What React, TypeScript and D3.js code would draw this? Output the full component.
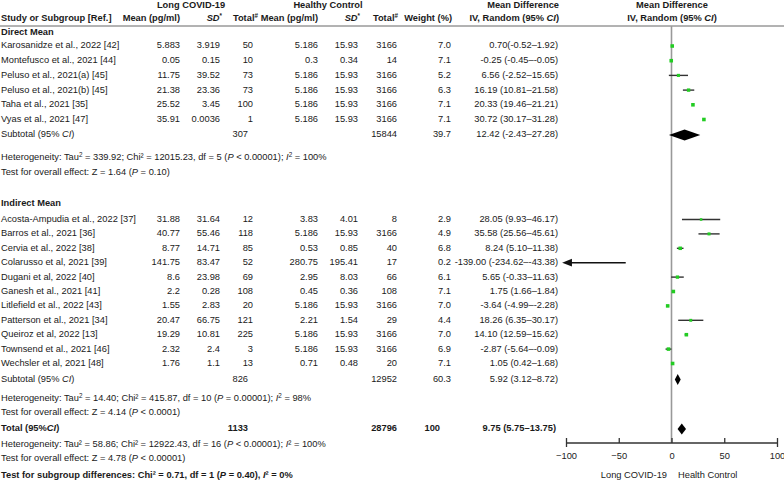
import React, { useEffect, useRef } from 'react';
import * as d3 from 'd3';

// Direct Mean studies
const directNames = ['Karosanidze et al., 2022 [42]', 'Montefusco et al., 2021 [44]', 'Peluso et al., 2021(a) [45]', 'Peluso et al., 2021(b)  [45]', 'Taha et al., 2021 [35]', 'Vyas et al., 2021 [47]'];
const directLcMean = [5.883, 0.05, 11.75, 21.38, 25.52, 35.91];
const directLcSd = [3.919, 0.15, 39.52, 23.36, 3.45, 0.0036];
const directLcN = [50, 10, 73, 73, 100, 1];
const directHcMean = [5.186, 0.3, 5.186, 5.186, 5.186, 5.186];
const directHcSd = [15.93, 0.34, 15.93, 15.93, 15.93, 15.93];
const directHcN = [3166, 14, 3166, 3166, 3166, 3166];
const directWeight = [7.0, 7.1, 5.2, 6.3, 7.1, 7.1];
const directMd = [0.70, -0.25, 6.56, 16.19, 20.33, 30.72];
const directLo = [-0.52, -0.45, -2.52, 10.81, 19.46, 30.17];
const directHi = [1.92, -0.05, 15.65, 21.58, 21.21, 31.28];

// Indirect Mean studies
const indirectNames = ['Acosta-Ampudia et al., 2022 [37]', 'Barros et al., 2021 [36]', 'Cervia et al., 2022 [38]', 'Colarusso et al, 2021 [39]', 'Dugani et al, 2022 [40]', 'Ganesh et al., 2021 [41]', 'Litlefield et al., 2022 [43]', 'Patterson et al., 2021 [34]', 'Queiroz et al, 2022 [13]', 'Townsend et al., 2021 [46]', 'Wechsler et al, 2021 [48]'];
const indirectLcMean = [31.88, 40.77, 8.77, 141.75, 8.6, 2.2, 1.55, 20.47, 19.29, 2.32, 1.76];
const indirectLcSd = [31.64, 55.46, 14.71, 83.47, 23.98, 0.28, 2.83, 66.75, 10.81, 2.4, 1.1];
const indirectLcN = [12, 118, 85, 52, 69, 108, 20, 121, 225, 3, 13];
const indirectHcMean = [3.83, 5.186, 0.53, 280.75, 2.95, 0.45, 5.186, 2.21, 5.186, 5.186, 0.71];
const indirectHcSd = [4.01, 15.93, 0.85, 195.41, 8.03, 0.36, 15.93, 1.54, 15.93, 15.93, 0.48];
const indirectHcN = [8, 3166, 40, 17, 66, 108, 3166, 29, 3166, 3166, 20];
const indirectWeight = [2.9, 4.9, 6.8, 0.2, 6.1, 7.1, 7.0, 4.4, 7.0, 6.9, 7.1];
const indirectMd = [28.05, 35.58, 8.24, -139.0, 5.65, 1.75, -3.64, 18.26, 14.10, -2.87, 1.05];
const indirectLo = [9.93, 25.56, 5.10, -234.62, -0.33, 1.66, -4.99, 6.35, 12.59, -5.64, 0.42];
const indirectHi = [46.17, 45.61, 11.38, -43.38, 11.63, 1.84, -2.28, 30.17, 15.62, -0.09, 1.68];

// subtotals: [direct, indirect, total]
const pooledLcN = [307, 826, 1133];
const pooledHcN = [15844, 12952, 28796];
const pooledWeight = [39.7, 60.3, 100];
const pooledMd = [12.42, 5.92, 9.75];
const pooledLo = [-2.43, 3.12, 5.75];
const pooledHi = [27.28, 8.72, 13.75];

const axisTicks = [-100, -50, 0, 50, 100];

const FONT = '"Liberation Sans", Arial, sans-serif';
const FS = 9.3;

const ciLabel = (m, lo, hi, sep = ' ') => `${m.toFixed(2)}${sep}(${lo.toFixed(2)}–${hi.toFixed(2)})`;

// segments: {t, i (italic), sup}
function Rich({ x, y, segs, bold = false, anchor = 'start' }) {
    let up = false;
    return (
        <text x={x} y={y} textAnchor={anchor} dominantBaseline="middle" fontWeight={bold ? 'bold' : 'normal'}>
            {segs.map((s, i) => {
                let dy = 0;
                if (s.sup && !up) { dy = -3.5; up = true; }
                else if (!s.sup && up) { dy = 3.5; up = false; }
                return (
                    <tspan key={i} dy={dy} fontStyle={s.i ? 'italic' : 'normal'} fontSize={s.sup ? 6.3 : FS}>{s.t}</tspan>
                );
            })}
        </text>
    );
}

function App() {
    const axisRef = useRef(null);

    const x = d3.scaleLinear().domain([-100, 100]).range([566, 777]);

    const headerLineY = 26;
    const axisY = 443;
    const directY = d3.range(directNames.length).map(i => 46 + i * 14.7);
    const indirectY = d3.range(indirectNames.length).map(i => 219.5 + i * 14.4);
    const pooledY = [135, 379.5, 429];

    // column right edges
    const col = { lcMean: 180, lcSd: 220, lcN: 253, hcMean: 318, hcSd: 358, hcN: 397, w: 451, ci: 558 };

    useEffect(() => {
        const g = d3.select(axisRef.current);
        g.selectAll('*').remove();
        g.call(d3.axisBottom(x).tickValues(axisTicks).tickSize(-5).tickPadding(7).tickFormat(d3.format('d')));
        g.select('.domain').attr('d', `M${x(-100)},0H${x(100)}`).attr('stroke', '#333').attr('stroke-width', 1.3);
        g.selectAll('.tick line').attr('stroke', '#333').attr('stroke-width', 1.3);
        g.selectAll('.tick text').attr('font-family', FONT).attr('font-size', FS).attr('fill', '#222');
        // end ticks cross the axis line
        g.selectAll('.tick').filter(d => d === -100 || d === 100).select('line').attr('y1', 4);
    }, []);

    const studyRow = (name, lm, ls, ln, hm, hs, hn, w, md, lo, hi, y, key, sep = ' ') => {
        const inRange = md >= -100 && md <= 100;
        const sq = 1.8 + w * 0.25;
        return (
            <g key={key}>
                <text x={1} y={y}>{name}</text>
                <text x={col.lcMean} y={y} textAnchor="end">{lm}</text>
                <text x={col.lcSd} y={y} textAnchor="end">{ls}</text>
                <text x={col.lcN} y={y} textAnchor="end">{ln}</text>
                <text x={col.hcMean} y={y} textAnchor="end">{hm}</text>
                <text x={col.hcSd} y={y} textAnchor="end">{hs}</text>
                <text x={col.hcN} y={y} textAnchor="end">{hn}</text>
                <text x={col.w} y={y} textAnchor="end">{w.toFixed(1)}</text>
                <text x={col.ci} y={y} textAnchor="end">{ciLabel(md, lo, hi, sep)}</text>
                {inRange ? (
                    <g>
                        <line x1={x(Math.max(lo, -100))} x2={x(Math.min(hi, 100))} y1={y} y2={y} stroke="#333" strokeWidth={1.4} />
                        <rect x={x(md) - sq / 2} y={y - sq / 2} width={sq} height={sq} fill="#22cc22" />
                    </g>
                ) : (
                    <line x1={x(hi)} x2={x(-100) + 4} y1={y} y2={y} stroke="#111" strokeWidth={1.4} markerEnd="url(#arrow)" />
                )}
            </g>
        );
    };

    const diamond = (i) => {
        const y = pooledY[i];
        const h = 5.5;
        return (
            <path
                d={`M${x(pooledLo[i])},${y}L${x(pooledMd[i])},${y - h}L${x(pooledHi[i])},${y}L${x(pooledMd[i])},${y + h}Z`}
                fill="#000"
            />
        );
    };

    const sup2 = { t: '2', sup: true };

    return (
        <svg width={784} height={482} style={{ position: 'absolute', left: 0, top: 0, background: '#fff' }}
            fontFamily={FONT} fontSize={FS} fill="#1a1a1a" dominantBaseline="middle">
            <defs>
                <marker id="arrow" viewBox="0 0 10 10" refX="2" refY="5" markerWidth="7" markerHeight="7" orient="auto-start-reverse">
                    <path d="M0,1L10,5L0,9Z" fill="#111" />
                </marker>
            </defs>

            {/* header */}
            <g fontWeight="bold">
                <text x={191} y={6} textAnchor="middle">Long COVID-19</text>
                <text x={328} y={6} textAnchor="middle">Healthy Control</text>
                <text x={559} y={6} textAnchor="end">Mean Difference</text>
                <text x={672} y={6} textAnchor="middle">Mean Difference</text>
                <text x={1} y={19}>Study or Subgroup [Ref.]</text>
                <text x={col.lcMean} y={19} textAnchor="end">Mean (pg/ml)</text>
                <Rich x={col.lcSd + 2} y={19} anchor="end" bold segs={[{ t: 'SD', i: true }, { t: '*', sup: true }]} />
                <Rich x={col.lcN + 5} y={19} anchor="end" bold segs={[{ t: 'Total' }, { t: '#', sup: true }]} />
                <text x={col.hcMean} y={19} textAnchor="end">Mean (pg/ml)</text>
                <Rich x={col.hcSd + 2} y={19} anchor="end" bold segs={[{ t: 'SD', i: true }, { t: '*', sup: true }]} />
                <Rich x={col.hcN + 1} y={19} anchor="end" bold segs={[{ t: 'Total' }, { t: '#', sup: true }]} />
                <text x={col.w + 1} y={19} textAnchor="end">Weight (%)</text>
                <Rich x={559} y={19} anchor="end" bold segs={[{ t: 'IV, Random (95% ' }, { t: 'CI', i: true }, { t: ')' }]} />
                <Rich x={672} y={19} anchor="middle" bold segs={[{ t: 'IV, Random (95% ' }, { t: 'CI', i: true }, { t: ')' }]} />
            </g>
            <line x1={0} x2={784} y1={headerLineY} y2={headerLineY} stroke="#666" strokeWidth={1} />

            {/* zero line */}
            <line x1={x(0)} x2={x(0)} y1={headerLineY} y2={axisY} stroke="#999" strokeWidth={1.6} />

            {/* Direct Mean */}
            <text x={1} y={33} fontWeight="bold">Direct Mean</text>
            {directNames.map((n, i) => studyRow(n, directLcMean[i], directLcSd[i], directLcN[i], directHcMean[i], directHcSd[i], directHcN[i], directWeight[i], directMd[i], directLo[i], directHi[i], directY[i], 'd' + i, i === 0 ? '' : ' '))}
            <Rich x={1} y={pooledY[0]} segs={[{ t: 'Subtotal (95% ' }, { t: 'CI', i: true }, { t: ')' }]} />
            <text x={248} y={pooledY[0]} textAnchor="end">{pooledLcN[0]}</text>
            <text x={col.hcN} y={pooledY[0]} textAnchor="end">{pooledHcN[0]}</text>
            <text x={col.w} y={pooledY[0]} textAnchor="end">{pooledWeight[0].toFixed(1)}</text>
            <text x={col.ci} y={pooledY[0]} textAnchor="end">{ciLabel(pooledMd[0], pooledLo[0], pooledHi[0])}</text>
            {diamond(0)}
            <Rich x={1} y={158} segs={[{ t: 'Heterogeneity: Tau' }, sup2, { t: ' = 339.92; Chi² = 12015.23, df = 5 (' }, { t: 'P', i: true }, { t: ' < 0.00001); ' }, { t: 'I', i: true }, sup2, { t: ' = 100%' }]} />
            <Rich x={1} y={173} segs={[{ t: 'Test for overall effect: Z = 1.64 (' }, { t: 'P', i: true }, { t: ' = 0.10)' }]} />

            {/* Indirect Mean */}
            <text x={1} y={204} fontWeight="bold">Indirect Mean</text>
            {indirectNames.map((n, i) => studyRow(n, indirectLcMean[i], indirectLcSd[i], indirectLcN[i], indirectHcMean[i], indirectHcSd[i], indirectHcN[i], indirectWeight[i], indirectMd[i], indirectLo[i], indirectHi[i], indirectY[i], 'i' + i))}
            <Rich x={1} y={pooledY[1]} segs={[{ t: 'Subtotal (95% ' }, { t: 'CI', i: true }, { t: ')' }]} />
            <text x={248} y={pooledY[1]} textAnchor="end">{pooledLcN[1]}</text>
            <text x={col.hcN} y={pooledY[1]} textAnchor="end">{pooledHcN[1]}</text>
            <text x={col.w} y={pooledY[1]} textAnchor="end">{pooledWeight[1].toFixed(1)}</text>
            <text x={col.ci} y={pooledY[1]} textAnchor="end">{ciLabel(pooledMd[1], pooledLo[1], pooledHi[1])}</text>
            {diamond(1)}
            <Rich x={1} y={399} segs={[{ t: 'Heterogeneity: Tau' }, sup2, { t: ' = 14.40; Chi² = 415.87, df = 10 (' }, { t: 'P', i: true }, { t: ' = 0.00001); ' }, { t: 'I', i: true }, sup2, { t: ' = 98%' }]} />
            <Rich x={1} y={413} segs={[{ t: 'Test for overall effect: Z = 4.14 (' }, { t: 'P', i: true }, { t: ' < 0.0001)' }]} />

            {/* Total */}
            <Rich x={1} y={pooledY[2]} bold segs={[{ t: 'Total (95%' }, { t: 'CI', i: true }, { t: ')' }]} />
            <text x={248} y={pooledY[2]} textAnchor="end" fontWeight="bold">{pooledLcN[2]}</text>
            <text x={col.hcN} y={pooledY[2]} textAnchor="end" fontWeight="bold">{pooledHcN[2]}</text>
            <text x={440} y={pooledY[2]} textAnchor="end" fontWeight="bold">{pooledWeight[2]}</text>
            <text x={col.ci - 2} y={pooledY[2]} textAnchor="end" fontWeight="bold">{ciLabel(pooledMd[2], pooledLo[2], pooledHi[2])}</text>
            {diamond(2)}
            <Rich x={1} y={445} segs={[{ t: 'Heterogeneity: Tau² = 58.86; Chi² = 12922.43, df = 16 (' }, { t: 'P', i: true }, { t: ' < 0.00001); ' }, { t: 'I', i: true }, { t: '² = 100%' }]} />
            <Rich x={1} y={459} segs={[{ t: 'Test for overall effect: Z = 4.78 (' }, { t: 'P', i: true }, { t: ' < 0.00001)' }]} />
            <Rich x={1} y={476} bold segs={[{ t: 'Test for subgroup differences: Chi² = 0.71, df = 1 (' }, { t: 'P', i: true }, { t: ' = 0.40), ' }, { t: 'I', i: true }, { t: '² = 0%' }]} />

            {/* axis */}
            <g ref={axisRef} transform={`translate(0,${axisY})`} />
            <text x={667} y={476} textAnchor="end">Long COVID-19</text>
            <text x={678} y={476}>Health Control</text>
        </svg>
    );
}

export default App;
